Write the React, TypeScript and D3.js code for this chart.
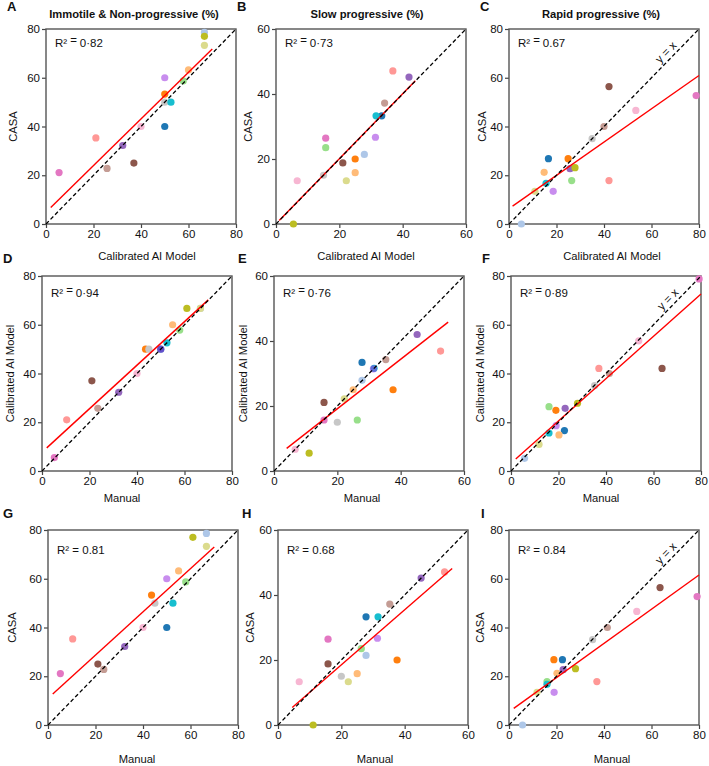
import React, { useEffect, useRef } from "react";
import * as d3 from "d3";

// one colour per sample, same order in every value array below
const sampleColors = [
  "#1f77b4", "#aec7e8", "#ff7f0e", "#ffbb78", "#98df8a", "#ff9896", "#9467bd", "#8c564b",
  "#c49c94", "#e377c2", "#f7b6d2", "#c7c7c7", "#bcbd22", "#dbdb8d", "#17becf", "#9b30e0",
];
// the last sample is drawn see-through
const sampleOpacity = [1, 1, 1, 1, 1, 1, 1, 1, 1, 1, 1, 1, 1, 1, 1, 0.55];

// immotile & non-progressive (%)
const immotileManual = [50, 66.7, 43.6, 55, 58, 10.4, 32.3, 21, 23.5, 5.2, 40, 45, 61, 66.7, 52.6, 50];
const immotileAI = [50, 66.7, 50, 60, 57.8, 21, 32.3, 37, 25.7, 5.5, 40, 50, 66.7, 66.7, 52.6, 50];
const immotileCASA = [40, 78.6, 53.3, 63.2, 58.7, 35.3, 32.2, 25, 22.8, 21.1, 40, 50, 77, 73.3, 50, 60];

// slow progressive (%)
const slowManual = [27.8, 27.8, 37.6, 25, 26.3, 52.6, 45.2, 15.8, 35.3, 15.8, 6.7, 20, 11.1, 22.2, 31.6, 31.4];
const slowAI = [33.4, 27.9, 25, 25, 15.7, 36.9, 42, 21.1, 34.3, 15.7, 6.7, 15, 5.5, 22.2, 31.6, 31.4];
const slowCASA = [33.3, 21.4, 20, 15.8, 23.5, 47.1, 45.2, 18.8, 37.2, 26.4, 13.3, 15, 0, 13.3, 33.3, 26.7];

// rapid progressive (%)
const rapidManual = [22.5, 5.7, 18.9, 20.2, 16, 37, 22.8, 63.6, 41.4, 79.2, 53.8, 35.2, 28, 11.8, 16, 19];
const rapidAI = [16.6, 5.2, 24.9, 14.8, 26.4, 42.1, 25.7, 42.1, 40, 78.8, 53.4, 35, 27.8, 10.9, 15.6, 18.6];
const rapidCASA = [26.8, 0, 26.8, 21.2, 17.8, 17.8, 22.7, 56.4, 40, 52.7, 46.6, 35, 23.1, 13.4, 16.7, 13.4];

const categoryTitles = ["Immotile & Non-progressive (%)", "Slow progressive (%)", "Rapid progressive (%)"];
const axisMax = [80, 60, 80];
const panelLetters = ["A", "B", "C", "D", "E", "F", "G", "H", "I"];
const r2Labels = ["0·82", "0·73", "0.67", "0·94", "0·76", "0·89", "0.81", "0.68", "0.84"];

// regression lines, panels A..I
const fitSlopes = [0.956, 1.0, 0.683, 0.893, 0.762, 0.868, 0.887, 0.846, 0.702];
const fitIntercepts = [4.9, 0.1, 6.3, 7.7, 3.9, 3.2, 10.9, 1.6, 5.4];
const fitFrom = [2, 1, 1.5, 2, 4, 2, 2, 4.5, 2];
const fitTo = [70, 44, 80, 70, 55, 80, 70, 55, 80];

const rowLabels = [
  { x: "Calibrated AI Model", y: "CASA" },
  { x: "Manual", y: "Calibrated AI Model" },
  { x: "Manual", y: "CASA" },
];

const App = () => {
  const ref = useRef<SVGSVGElement>(null);

  useEffect(() => {
    const svg = d3.select(ref.current);
    svg.selectAll("*").remove();
    const font = "'Liberation Sans', Arial, sans-serif";

    const frameLeft = [[46, 276, 509], [42, 274, 511], [48, 278, 509]];
    const frameTop = [29, 276, 530];
    const frameW = 190, frameH = 195;
    const letterX = [[7, 237, 480], [3, 238, 482], [3, 242, 481]];
    const letterY = [11, 263, 518];
    const titleX = [134, 367, 601];
    const xLabelX = [[147, 366, 612], [122, 362, 601], [137, 375, 612]];
    const xLabelY = [260, 502, 763];
    const yLabelX = [[13, 248, 482], [10, 243, 480], [12, 250, 480]];
    const r2Y = [18, 21, 23.5];

    const series = [
      [immotileManual, immotileAI, immotileCASA],
      [slowManual, slowAI, slowCASA],
      [rapidManual, rapidAI, rapidCASA],
    ];

    for (let i = 0; i < 9; i++) {
      const row = Math.floor(i / 3), col = i % 3;
      const [manual, ai, casa] = series[col];
      // row 0: AI vs CASA, row 1: manual vs AI, row 2: manual vs CASA
      const xs = row === 0 ? ai : manual;
      const ys = row === 1 ? ai : casa;
      const max = axisMax[col];
      const left = frameLeft[row][col], top = frameTop[row];

      const x = d3.scaleLinear().domain([0, max]).range([0, frameW]);
      const y = d3.scaleLinear().domain([0, max]).range([frameH, 0]);
      const g = svg.append("g").attr("transform", "translate(" + left + "," + top + ")");

      const ticks = d3.range(0, max + 1, 20);
      const xAxis = g.append("g").attr("transform", "translate(0," + frameH + ")")
        .call(d3.axisBottom(x).tickValues(ticks).tickSize(4).tickPadding(2));
      const yAxis = g.append("g").call(d3.axisLeft(y).tickValues(ticks).tickSize(4).tickPadding(2));
      [xAxis, yAxis].forEach(function (a) {
        a.select(".domain").remove();
        a.selectAll("line").attr("stroke", "#444").attr("stroke-width", 1.2);
        a.selectAll("text").attr("font-family", font).attr("font-size", 11.5).attr("fill", "#111");
      });

      g.append("rect")
        .attr("width", frameW).attr("height", frameH)
        .attr("fill", "none").attr("stroke", "#555").attr("stroke-width", 1.4);

      // points
      g.selectAll("circle.pt")
        .data(xs.map(function (v, k) { return { x: v, y: ys[k], k: k }; }))
        .enter().append("circle")
        .attr("class", "pt")
        .attr("cx", function (d) { return x(d.x); })
        .attr("cy", function (d) { return y(d.y); })
        .attr("r", 3.6)
        .attr("fill", function (d) { return sampleColors[d.k]; })
        .attr("fill-opacity", function (d) { return sampleOpacity[d.k]; });

      // regression fit
      const fit = [fitFrom[i], fitTo[i]].map(function (v) { return [v, fitIntercepts[i] + fitSlopes[i] * v]; });
      g.append("path")
        .attr("d", d3.line().x(function (d) { return x(d[0]); }).y(function (d) { return y(d[1]); })(fit as any))
        .attr("stroke", "#ff0000").attr("stroke-width", 1.4).attr("fill", "none");

      // identity line
      g.append("line")
        .attr("x1", x(0)).attr("y1", y(0)).attr("x2", x(max)).attr("y2", y(max))
        .attr("stroke", "#000").attr("stroke-width", 1.3).attr("stroke-dasharray", "4,2.5");

      if (col === 2) {
        const ang = -Math.atan(frameH / frameW) * 180 / Math.PI;
        g.append("text")
          .attr("transform", "translate(" + x(66) + "," + y(70.5) + ") rotate(" + ang + ")")
          .attr("text-anchor", "middle").attr("dy", "0.35em")
          .attr("font-family", font).attr("font-size", 11.5).attr("fill", "#111")
          .text("y = x");
      }

      // R² label; the top two rows set "=" a little raised
      const r2 = g.append("text").attr("x", 9).attr("y", r2Y[row])
        .attr("font-family", font).attr("font-size", 11.5).attr("fill", "#111");
      r2.append("tspan").text("R²");
      if (row < 2) {
        r2.append("tspan").attr("dx", 3).attr("dy", -3).text("=");
        r2.append("tspan").attr("dx", 3).attr("dy", 3).text(r2Labels[i]);
      } else {
        r2.append("tspan").text(" = " + r2Labels[i]);
      }

      // panel letter
      svg.append("text")
        .attr("x", letterX[row][col]).attr("y", letterY[row])
        .attr("font-family", font).attr("font-size", 13).attr("font-weight", "bold").attr("fill", "#111")
        .text(panelLetters[i]);

      if (row === 0) {
        svg.append("text")
          .attr("x", titleX[col]).attr("y", 18)
          .attr("text-anchor", "middle")
          .attr("font-family", font).attr("font-size", 11.2)
          .attr("font-weight", "bold").attr("fill", "#111")
          .text(categoryTitles[col]);
      }

      svg.append("text")
        .attr("x", xLabelX[row][col]).attr("y", xLabelY[row])
        .attr("text-anchor", "middle")
        .attr("font-family", font).attr("font-size", 11.2).attr("fill", "#111")
        .text(rowLabels[row].x);

      svg.append("text")
        .attr("transform", "translate(" + yLabelX[row][col] + "," + (top + frameH / 2) + ") rotate(-90)")
        .attr("text-anchor", "middle").attr("dy", "0.35em")
        .attr("font-family", font).attr("font-size", 11.2).attr("fill", "#111")
        .text(rowLabels[row].y);
    }
  }, []);

  return (
    <svg
      ref={ref}
      width={709}
      height={766}
      style={{ position: "absolute", left: 0, top: 0, background: "#fff" }}
    />
  );
};

export default App;
